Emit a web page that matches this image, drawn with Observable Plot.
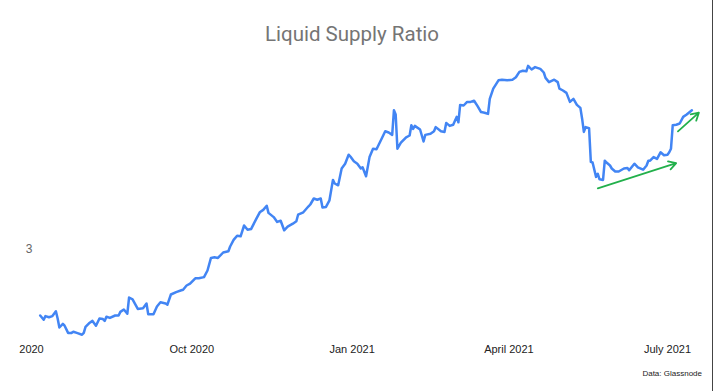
<!DOCTYPE html>
<html><head><meta charset="utf-8">
<script src="https://cdn.jsdelivr.net/npm/d3@7"></script>
<script src="https://cdn.jsdelivr.net/npm/@observablehq/plot@0.6"></script>
<style>
html,body{margin:0;padding:0;background:#fff;}
body{width:713px;height:391px;overflow:hidden;position:relative;font-family:"Liberation Sans",Arial,sans-serif;}
#title{height:56px;box-sizing:border-box;padding-top:24px;padding-right:9px;text-align:center;font-family:Roboto,sans-serif;font-size:20.5px;line-height:1;color:#757575;}
#caption{height:25px;box-sizing:border-box;padding-top:4px;padding-right:11px;text-align:right;font-size:8px;line-height:1;color:#222;}
#edge{position:absolute;left:712px;top:0;width:1px;height:391px;background:#444;}
svg{display:block}
</style></head><body>
<div id="title">Liquid Supply Ratio</div>
<div id="chart"></div>
<div id="caption">Data: Glassnode</div>
<div id="edge"></div>
<script>
const dates = [
"2020-07-06","2020-07-08","2020-07-09","2020-07-11","2020-07-13","2020-07-15","2020-07-16","2020-07-17","2020-07-19","2020-07-20",
"2020-07-22","2020-07-24","2020-07-25","2020-07-27","2020-07-30","2020-07-31","2020-08-01","2020-08-03","2020-08-05","2020-08-07",
"2020-08-09","2020-08-11","2020-08-12","2020-08-13","2020-08-15","2020-08-18","2020-08-20","2020-08-21","2020-08-23","2020-08-25",
"2020-08-26","2020-08-28","2020-08-31","2020-09-03","2020-09-05","2020-09-06","2020-09-09","2020-09-11","2020-09-13","2020-09-16",
"2020-09-17","2020-09-19","2020-09-22","2020-09-25","2020-09-26","2020-09-28","2020-09-30","2020-10-03","2020-10-05","2020-10-08",
"2020-10-10","2020-10-12","2020-10-14","2020-10-16","2020-10-19","2020-10-22","2020-10-23","2020-10-25","2020-10-27","2020-10-29",
"2020-10-31","2020-11-02","2020-11-04","2020-11-07","2020-11-09","2020-11-11","2020-11-13","2020-11-14","2020-11-17","2020-11-19",
"2020-11-21","2020-11-23","2020-11-25","2020-11-28","2020-11-30","2020-12-01","2020-12-04","2020-12-07","2020-12-08","2020-12-10",
"2020-12-12","2020-12-14","2020-12-15","2020-12-17","2020-12-19","2020-12-21","2020-12-22","2020-12-24","2020-12-26","2020-12-28",
"2020-12-30","2020-12-31","2021-01-02","2021-01-04","2021-01-06","2021-01-07","2021-01-09","2021-01-11","2021-01-13","2021-01-15",
"2021-01-18","2021-01-20","2021-01-22","2021-01-24","2021-01-25","2021-01-26","2021-01-27","2021-01-29","2021-02-01","2021-02-03",
"2021-02-04","2021-02-05","2021-02-06","2021-02-09","2021-02-11","2021-02-12","2021-02-15","2021-02-17","2021-02-18","2021-02-21",
"2021-02-23","2021-02-24","2021-02-26","2021-02-28","2021-03-02","2021-03-03","2021-03-04","2021-03-06","2021-03-08","2021-03-10",
"2021-03-12","2021-03-14","2021-03-16","2021-03-18","2021-03-20","2021-03-21","2021-03-23","2021-03-26","2021-03-28","2021-03-31",
"2021-04-03","2021-04-05","2021-04-07","2021-04-09","2021-04-11","2021-04-12","2021-04-14","2021-04-16","2021-04-19","2021-04-21",
"2021-04-22","2021-04-24","2021-04-27","2021-04-29","2021-04-30","2021-05-02","2021-05-04","2021-05-06","2021-05-08","2021-05-10",
"2021-05-12","2021-05-13","2021-05-14","2021-05-15","2021-05-17","2021-05-18","2021-05-19","2021-05-21","2021-05-22","2021-05-23",
"2021-05-25","2021-05-26","2021-05-27","2021-05-29","2021-05-30","2021-06-01","2021-06-03","2021-06-06","2021-06-08","2021-06-09",
"2021-06-12","2021-06-14","2021-06-17","2021-06-19","2021-06-20","2021-06-21","2021-06-23","2021-06-25","2021-06-27","2021-06-29",
"2021-07-01","2021-07-02","2021-07-03","2021-07-04","2021-07-06","2021-07-08","2021-07-10","2021-07-12","2021-07-15"
];
const ratio = [
2.890,2.883,2.889,2.887,2.889,2.897,2.885,2.870,2.876,2.873,
2.861,2.861,2.863,2.861,2.858,2.861,2.871,2.877,2.881,2.873,
2.885,2.884,2.881,2.888,2.886,2.890,2.890,2.896,2.900,2.893,
2.920,2.917,2.901,2.902,2.910,2.892,2.892,2.905,2.912,2.910,
2.908,2.925,2.929,2.932,2.933,2.940,2.943,2.952,2.952,2.954,
2.965,2.986,2.987,2.986,2.995,2.997,3.005,3.016,3.023,3.022,
3.040,3.033,3.034,3.051,3.062,3.066,3.073,3.061,3.054,3.046,
3.048,3.032,3.038,3.043,3.047,3.058,3.062,3.072,3.075,3.085,
3.083,3.085,3.070,3.071,3.082,3.116,3.110,3.107,3.135,3.143,
3.158,3.155,3.147,3.143,3.135,3.137,3.122,3.154,3.168,3.167,
3.185,3.197,3.195,3.191,3.232,3.225,3.168,3.178,3.187,3.190,
3.207,3.201,3.206,3.200,3.180,3.191,3.193,3.197,3.204,3.197,
3.196,3.211,3.206,3.208,3.221,3.212,3.241,3.240,3.246,3.246,
3.248,3.239,3.229,3.228,3.226,3.251,3.268,3.282,3.283,3.282,
3.283,3.287,3.296,3.298,3.297,3.306,3.300,3.304,3.301,3.295,
3.286,3.279,3.283,3.279,3.268,3.265,3.261,3.246,3.251,3.241,
3.236,3.218,3.196,3.204,3.202,3.146,3.145,3.121,3.126,3.117,
3.116,3.148,3.145,3.140,3.135,3.130,3.130,3.135,3.136,3.132,
3.143,3.137,3.133,3.140,3.148,3.148,3.154,3.151,3.162,3.157,
3.158,3.162,3.168,3.207,3.208,3.210,3.221,3.225,3.232
];
const xTickDates = ["2020-07-01","2020-10-01","2021-01-01","2021-04-01","2021-07-01"];
const xTickLabels = ["2020","Oct 2020","Jan 2021","April 2021","July 2021"];
const yTicks = [3];
const yTickLabels = ["3"];
const arrowStartDates = ["2021-05-22","2021-07-07"];
const arrowStartValues = [3.102,3.197];
const arrowEndDates = ["2021-07-06","2021-07-19"];
const arrowEndValues = [3.144,3.228];

const data = dates.map((d,i)=>({date:new Date(d), value:ratio[i]}));
const arrows = arrowStartDates.map((d,i)=>({x1:new Date(d), y1:arrowStartValues[i], x2:new Date(arrowEndDates[i]), y2:arrowEndValues[i]}));
const tickDates = xTickDates.map(d=>new Date(d));

const chart = Plot.plot({
  width:713, height:310,
  marginTop:10, marginBottom:30, marginLeft:31, marginRight:46,
  style:{background:"#fff", overflow:"visible"},
  x:{type:"utc", domain:[new Date("2020-07-01"), new Date("2021-07-01")], axis:null},
  y:{domain:[2.855,3.305], axis:null},
  marks:[
    Plot.axisX({ticks:tickDates, tickSize:0, tickPadding:9, label:null,
      tickFormat:d=>xTickLabels[tickDates.findIndex(t=>+t===+d)],
      fontSize:11, fill:"#222", fontFamily:"Liberation Sans, Arial, sans-serif"}),
    Plot.axisY({ticks:yTicks, tickSize:0, tickPadding:0, dx:1, label:null,
      tickFormat:d=>yTickLabels[yTicks.indexOf(d)],
      fontSize:12, fill:"#666", fontFamily:"Liberation Sans, Arial, sans-serif"}),
    Plot.line(data,{x:"date", y:"value", stroke:"#4285f4", strokeWidth:2.5, strokeLinejoin:"round"}),
    Plot.arrow(arrows,{x1:"x1", y1:"y1", x2:"x2", y2:"y2", stroke:"#22b04b", strokeWidth:1.8, headLength:7})
  ]
});
document.getElementById("chart").appendChild(chart);
</script>
</body></html>
